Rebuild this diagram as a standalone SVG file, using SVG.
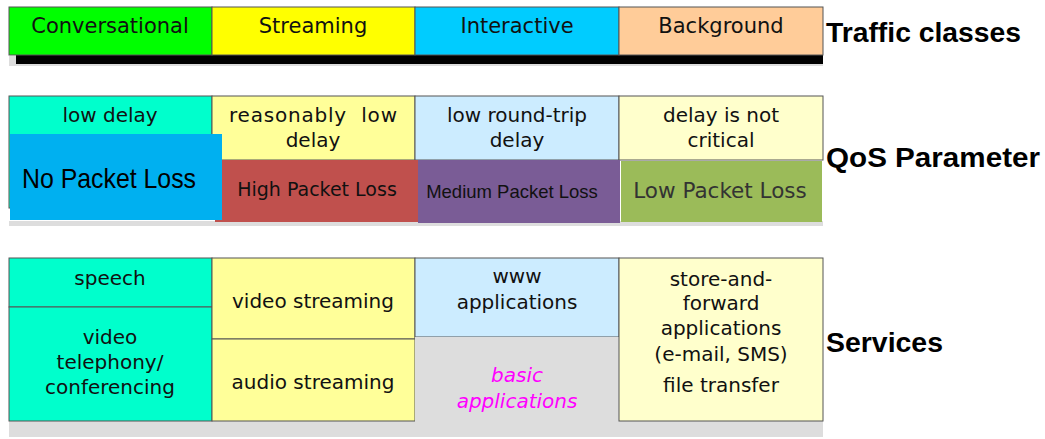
<svg xmlns="http://www.w3.org/2000/svg" width="1045" height="439" viewBox="0 0 1045 439">
<style>
.c{stroke:#555;stroke-width:1}
.t{font-family:"DejaVu Sans",Verdana,sans-serif;font-size:20px;fill:#111;text-anchor:middle}
.h{font-family:"DejaVu Sans",Verdana,sans-serif;font-size:21px;fill:#111;text-anchor:middle}
.lab{font-family:"Liberation Sans",Arial,sans-serif;font-weight:bold;font-size:27px;fill:#000}
</style>
<rect width="1045" height="439" fill="#fff"/>
<!-- Row 1: traffic classes -->
<g id="row1">
<rect x="9" y="56" width="814" height="10" fill="#ddd"/>
<rect x="16" y="55" width="807" height="9" fill="#000"/>
<g id="conversational"><rect class="c" x="9" y="7" width="203" height="48" fill="#00ff00"/><text class="h" x="110" y="33">Conversational</text></g>
<g id="streaming"><rect class="c" x="212" y="7" width="203" height="48" fill="#ffff00"/><text class="h" x="313" y="33">Streaming</text></g>
<g id="interactive"><rect class="c" x="415" y="7" width="204" height="48" fill="#00ccff"/><text class="h" x="517" y="33">Interactive</text></g>
<g id="background"><rect class="c" x="619" y="7" width="204" height="48" fill="#ffcc99"/><text class="h" x="721" y="33">Background</text></g>
<g id="label-traffic"><text class="lab" x="826" y="42" textLength="195" lengthAdjust="spacingAndGlyphs">Traffic classes</text></g>
</g>
<!-- Row 2: QoS -->
<g id="row2">
<rect x="9" y="221" width="814" height="5" fill="#ddd"/>
<g id="low-delay"><rect class="c" x="9" y="96" width="203" height="112" fill="#00ffcc"/><text class="t" x="110" y="122">low delay</text></g>
<g id="reasonably-low"><rect class="c" x="212" y="96" width="203" height="64" fill="#ffff99"/><text class="t" x="313" y="122" xml:space="preserve" style="white-space:pre" textLength="168">reasonably  low</text><text class="t" x="313" y="147">delay</text></g>
<g id="low-round-trip"><rect class="c" x="415" y="96" width="204" height="64" fill="#ccecff"/><text class="t" x="517" y="122">low round-trip</text><text class="t" x="517" y="147">delay</text></g>
<g id="not-critical"><rect class="c" x="619" y="96" width="204" height="64" fill="#ffffcc"/><text class="t" x="721" y="122">delay is not</text><text class="t" x="721" y="147">critical</text></g>
<g id="high-loss"><rect x="215" y="160" width="203" height="62" fill="#c0504d"/><text class="t" x="317" y="196" style="font-size:19px">High Packet Loss</text></g>
<g id="medium-loss"><rect x="418" y="160" width="202" height="63" fill="#7a5c96"/><text x="512" y="198" style="font-family:'Liberation Sans',Arial,sans-serif;font-size:18.5px;fill:#111;text-anchor:middle">Medium Packet Loss</text></g>
<g id="low-loss"><rect x="621" y="161" width="201" height="61" fill="#9bbb59"/><text class="t" x="720" y="198" style="font-size:21.5px;fill:#333">Low Packet Loss</text></g>
<g id="no-loss"><rect x="10" y="134" width="212" height="86" fill="#00b0f0"/><text x="22" y="188" textLength="174" lengthAdjust="spacingAndGlyphs" style="font-family:'Liberation Sans',Arial,sans-serif;font-size:28px;fill:#000">No Packet Loss</text></g>
<g id="label-qos"><text class="lab" x="826" y="167" textLength="214" lengthAdjust="spacingAndGlyphs">QoS Parameter</text></g>
</g>
<!-- Row 3: services -->
<g id="row3">
<rect x="9" y="421" width="814" height="16" fill="#ddd"/>
<g id="speech"><rect class="c" x="9" y="258" width="203" height="49" fill="#00ffcc"/><text class="t" x="110" y="285">speech</text></g>
<g id="video-telephony"><rect class="c" x="9" y="307" width="203" height="114" fill="#00ffcc"/><text class="t" x="110" y="344">video</text><text class="t" x="110" y="369">telephony/</text><text class="t" x="110" y="394">conferencing</text></g>
<g id="video-streaming"><rect class="c" x="212" y="258" width="203" height="81" fill="#ffff99"/><text class="t" x="313" y="308">video streaming</text></g>
<g id="audio-streaming"><rect class="c" x="212" y="339" width="203" height="82" fill="#ffff99"/><text class="t" x="313" y="389">audio streaming</text></g>
<g id="www"><rect class="c" x="415" y="258" width="204" height="79" fill="#ccecff"/><text class="t" x="517" y="283">www</text><text class="t" x="517" y="309">applications</text></g>
<g id="basic"><rect x="415" y="337" width="204" height="100" fill="#dddddd"/><text class="t" x="517" y="382" style="fill:#ff00ff;font-style:italic">basic</text><text class="t" x="517" y="408" style="fill:#ff00ff;font-style:italic">applications</text></g>
<g id="store-forward"><rect class="c" x="619" y="258" width="204" height="163" fill="#ffffcc"/><text class="t" x="721" y="286">store-and-</text><text class="t" x="721" y="310">forward</text><text class="t" x="721" y="335">applications</text><text class="t" x="721" y="361">(e-mail, SMS)</text><text class="t" x="721" y="392">file transfer</text></g>
<g id="label-services"><text class="lab" x="826" y="352" textLength="117" lengthAdjust="spacingAndGlyphs">Services</text></g>
</g>
<g id="connectors"></g>
</svg>
